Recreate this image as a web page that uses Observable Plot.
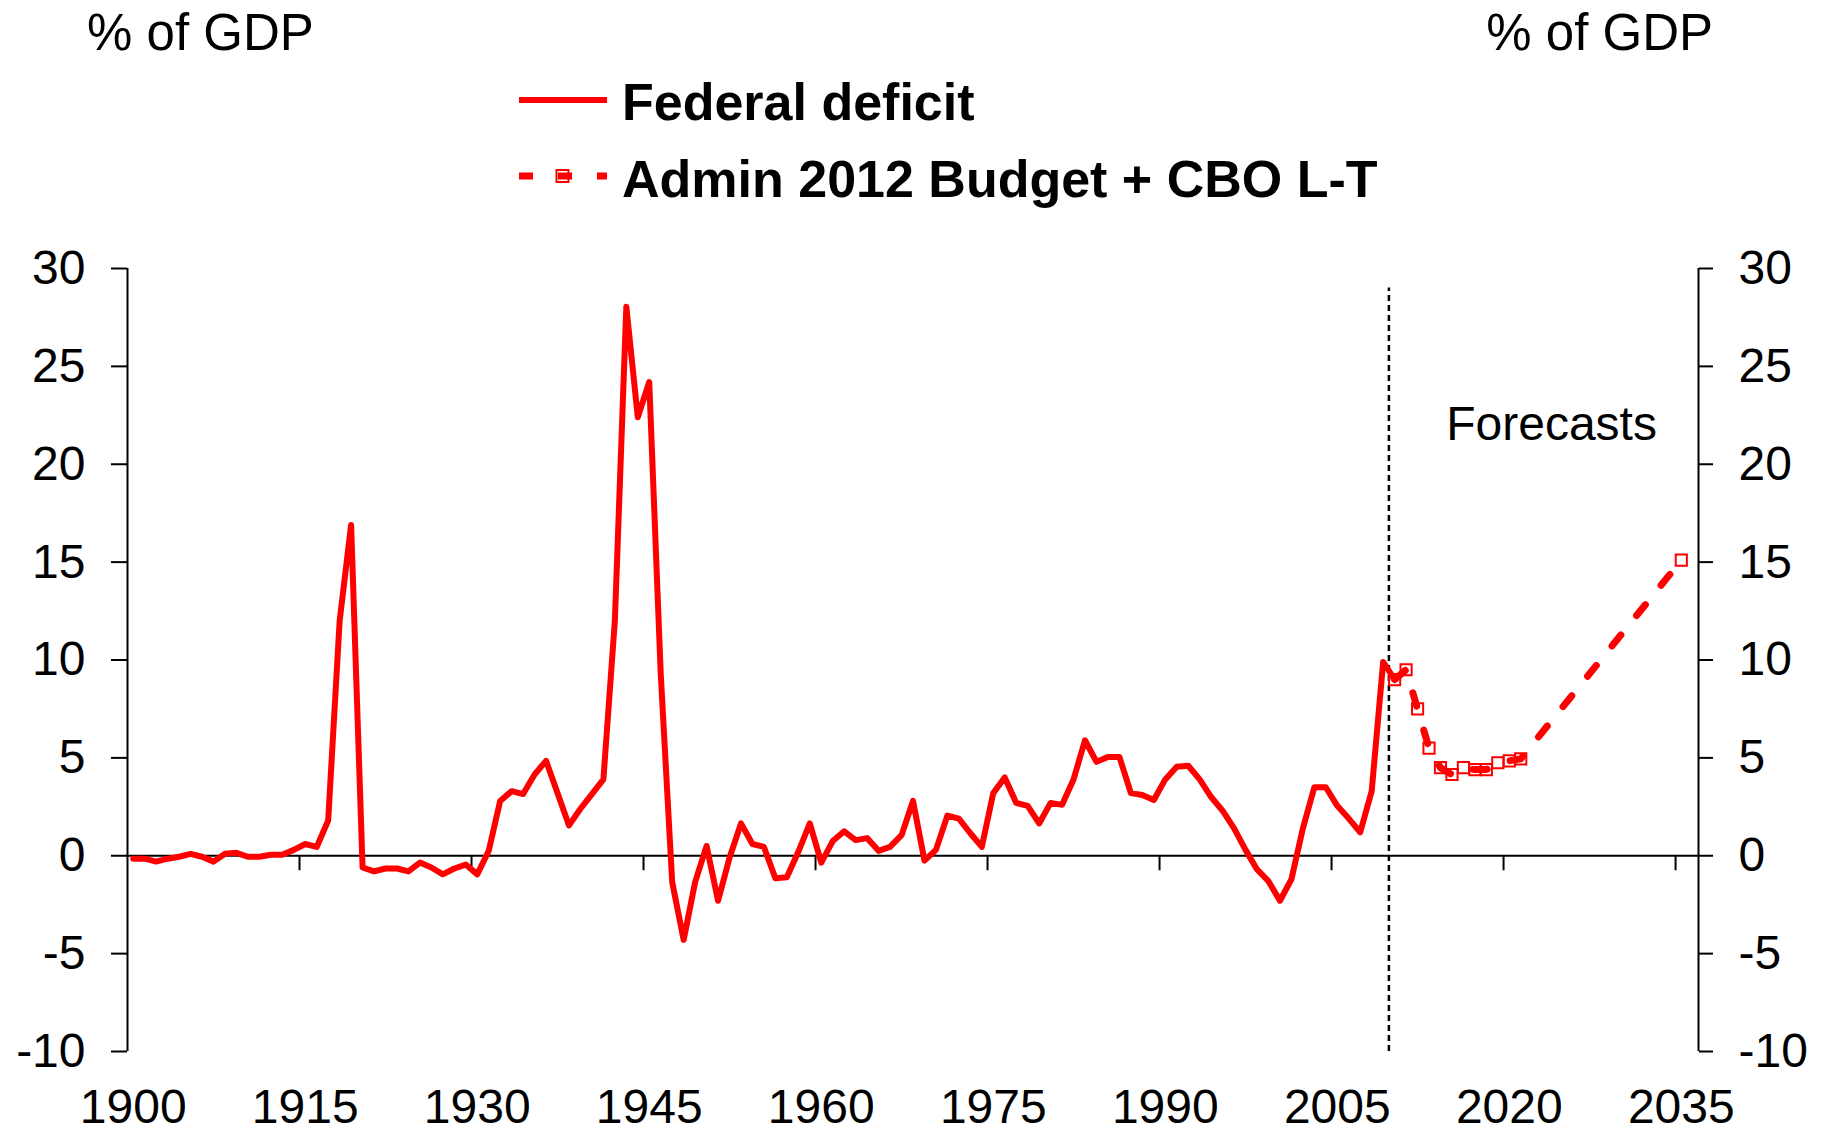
<!DOCTYPE html>
<html>
<head>
<meta charset="utf-8">
<script src="https://cdn.jsdelivr.net/npm/d3@7"></script>
<script src="https://cdn.jsdelivr.net/npm/@observablehq/plot@0.6"></script>
<style>
  html, body { margin: 0; padding: 0; background: #fff; overflow: hidden; }
  #wrap { width: 1824px; height: 1135px; position: relative; overflow: hidden; background: #fff;
          font-family: "Liberation Sans", Arial, sans-serif; }
  #head { display: block; }
  #chart svg { display: block; }
</style>
</head>
<body>
<div id="wrap">
  <svg id="head" width="1824" height="240"></svg>
  <div id="chart"></div>
</div>
<script>
// ---------------- data ----------------
const unitLabel = "% of GDP";
const seriesNames = ["Federal deficit", "Admin 2012 Budget + CBO L-T"];
const annotationText = "Forecasts";

const histYears = d3.range(1900, 2011); // 1900 … 2010
const histValues = [
  -0.15, -0.15, -0.3, -0.15, -0.05, 0.1, -0.05, -0.3, 0.1, 0.15,      // 1900s
  -0.05, -0.05, 0.05, 0.05, 0.3, 0.6, 0.45, 1.8, 12.0, 16.9,          // 1910s
  -0.6, -0.8, -0.65, -0.65, -0.8, -0.35, -0.6, -0.95, -0.65, -0.45,   // 1920s
  -0.95, 0.25, 2.8, 3.3, 3.15, 4.15, 4.85, 3.2, 1.55, 2.4,            // 1930s
  3.15, 3.9, 12.0, 28.05, 22.4, 24.2, 9.3, -1.35, -4.3, -1.35,        // 1940s
  0.5, -2.3, -0.1, 1.65, 0.6, 0.45, -1.15, -1.1, 0.2, 1.65,           // 1950s
  -0.35, 0.75, 1.25, 0.8, 0.9, 0.25, 0.45, 1.05, 2.8, -0.25,          // 1960s
  0.3, 2.05, 1.9, 1.15, 0.45, 3.2, 4.0, 2.7, 2.55, 1.65,              // 1970s
  2.7, 2.6, 3.9, 5.9, 4.8, 5.05, 5.05, 3.2, 3.1, 2.85,                // 1980s
  3.9, 4.55, 4.6, 3.9, 3.0, 2.3, 1.4, 0.3, -0.7, -1.3,                // 1990s
  -2.3, -1.2, 1.4, 3.5, 3.5, 2.55, 1.9, 1.2, 3.3, 9.9,                // 2000s
  9.0                                                                  // 2010
];

const fcstYears  = [2010, 2011, 2012, 2013, 2014, 2015, 2016, 2017, 2018, 2019, 2020, 2021, 2035];
const fcstValues = [9.0, 9.5, 7.5, 5.5, 4.5, 4.15, 4.5, 4.4, 4.4, 4.75, 4.85, 4.95, 15.1];

const xTickYears  = [1900, 1915, 1930, 1945, 1960, 1975, 1990, 2005, 2020, 2035];
const yTickValues = [-10, -5, 0, 5, 10, 15, 20, 25, 30];
const xDomain = [1900, 2037];
const yDomain = [-10, 30];
const forecastStart = 2010;      // dashed divider position
const dividerTop = 29;           // divider runs from -10 up to here
const annotationAt = {x: 2015, y: 22};

// ---------------- tables ----------------
const hist = histYears.map((year, i) => ({year, value: histValues[i]}));
const fcst = fcstYears.map((year, i) => ({year, value: fcstValues[i]}));
const centre = d => d.year + 0.5; // each year sits in the middle of its category slot

const RED = "#ff0000";
const FONT = '"Liberation Sans", Arial, sans-serif';

// ---------------- header (units + legend) ----------------
const head = d3.select("#head").style("font-family", FONT);
head.append("text").attr("x", 87).attr("y", 50).attr("font-size", 51).text(unitLabel);
head.append("text").attr("x", 1713).attr("y", 50).attr("text-anchor", "end").attr("font-size", 51).text(unitLabel);

const lg = head.append("g");
lg.append("line").attr("x1", 519).attr("x2", 607).attr("y1", 100).attr("y2", 100)
  .attr("stroke", RED).attr("stroke-width", 6);
lg.append("text").attr("x", 622).attr("y", 120).attr("font-size", 52).attr("font-weight", "bold").text(seriesNames[0]);
lg.append("line").attr("x1", 519).attr("x2", 607).attr("y1", 176).attr("y2", 176)
  .attr("stroke", RED).attr("stroke-width", 7).attr("stroke-dasharray", "14,25");
lg.append("rect").attr("x", 556.5).attr("y", 170).attr("width", 12).attr("height", 12)
  .attr("fill", "none").attr("stroke", RED).attr("stroke-width", 2);
lg.append("text").attr("x", 622).attr("y", 197).attr("font-size", 52).attr("font-weight", "bold").text(seriesNames[1]);

// ---------------- chart ----------------
const chart = Plot.plot({
  width: 1824,
  height: 895,
  marginLeft: 127,
  marginRight: 126,
  marginTop: 28,
  marginBottom: 84,
  style: {fontFamily: FONT, fontSize: "48px", color: "#000", background: "#fff", overflow: "visible"},
  x: {domain: xDomain},
  y: {domain: yDomain},
  marks: [
    Plot.ruleY([0], {stroke: "#000", strokeWidth: 2}),
    Plot.ruleX([xDomain[0], xDomain[1]], {stroke: "#000", strokeWidth: 2}),
    Plot.ruleX(xTickYears.slice(1), {y1: 0, y2: 0, insetBottom: -15, stroke: "#000", strokeWidth: 2}),
    Plot.axisY({anchor: "left", ticks: yTickValues, tickFormat: d => String(d), tickSize: 16, tickPadding: 26,
                strokeWidth: 2, fontSize: 48, label: null}),
    Plot.axisY({anchor: "right", ticks: yTickValues, tickFormat: d => String(d), tickSize: 14, tickPadding: 26,
                strokeWidth: 2, fontSize: 48, label: null}),
    Plot.axisX({anchor: "bottom", ticks: xTickYears.map(y => y + 0.5), tickFormat: d => String(Math.round(d - 0.5)),
                tickSize: 0, tickPadding: 37, fontSize: 48, label: null}),
    Plot.ruleX([forecastStart], {y1: yDomain[0], y2: dividerTop, stroke: "#000", strokeWidth: 2.5, strokeDasharray: "6,4"}),
    Plot.text([annotationText], {x: annotationAt.x, y: annotationAt.y, textAnchor: "start", lineAnchor: "middle", fontSize: 48, fill: "#000"}),
    Plot.line(hist, {x: centre, y: "value", stroke: RED, strokeWidth: 6}),
    Plot.line(fcst, {x: centre, y: "value", stroke: RED, strokeWidth: 7, strokeDasharray: "14,25"}),
    Plot.dot(fcst, {x: centre, y: "value", symbol: "square", r: 6.3, fill: "none", stroke: RED, strokeWidth: 2})
  ]
});
document.getElementById("chart").append(chart);
</script>
</body>
</html>
